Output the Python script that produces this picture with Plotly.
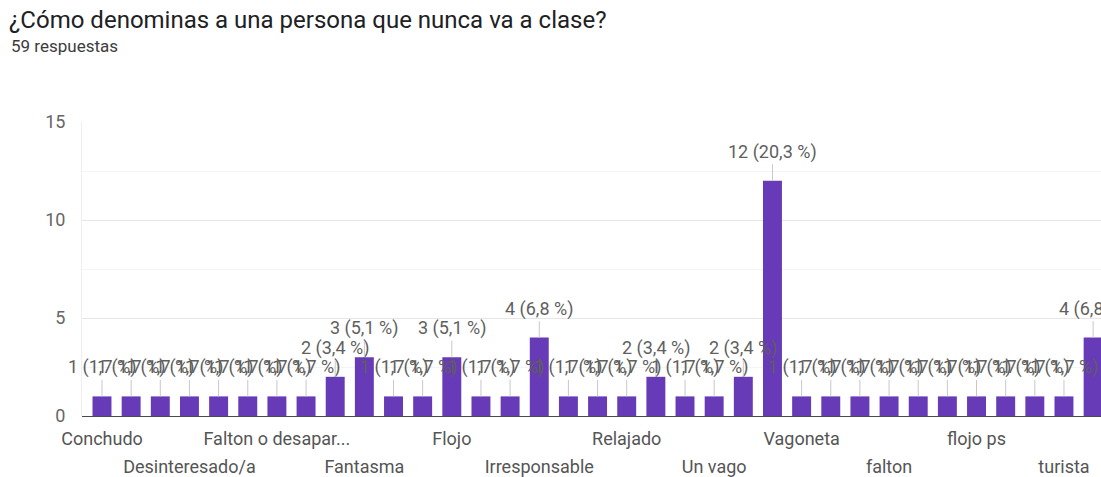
import plotly.graph_objects as go

# Survey answers (sorted the way the form lists them) and their counts
categories = [
    "Conchudo", "Desaparecido", "Desertor", "Desinteresado/a", "Despreocupado",
    "Falton", "Falton o desaparecido", "Faltoso", "Faltón", "Fantasma",
    "Fantasmita", "Flojazo", "Flojo", "Flojo y vago", "Haragán",
    "Irresponsable", "Ocioso", "Perezoso", "Relajado", "Tirapera",
    "Tiraplancha", "Un vago", "Vacilón", "Vago", "Vagoneta",
    "Zángano", "desaparecido", "falton", "faltoso", "flojo",
    "flojo ps", "irresponsable", "perezoso", "turista", "vago",
]
counts = [
    1, 1, 1, 1, 1,
    1, 1, 1, 2, 3,
    1, 1, 3, 1, 1,
    4, 1, 1, 1, 2,
    1, 1, 2, 12, 1,
    1, 1, 1, 1, 1,
    1, 1, 1, 1, 4,
]

# Axis labels: two staggered rows of category names
row1_ticks = ["Conchudo", "Falton o desaparecido", "Flojo", "Relajado", "Vagoneta", "flojo ps"]
row1_text = ["Conchudo", "Falton o desapar...", "Flojo", "Relajado", "Vagoneta", "flojo ps"]
row2_ticks = ["Desinteresado/a", "Fantasma", "Irresponsable", "Un vago", "falton", "turista"]
y_ticks = [0, 5, 10, 15]

title_text = "¿Cómo denominas a una persona que nunca va a clase?"
total = sum(counts)
subtitle_text = f"{total} respuestas"

PURPLE = "#673ab7"
FONT = "Roboto"

fig = go.Figure()
fig.add_trace(go.Bar(
    x=categories, y=counts, marker_color=PURPLE, marker_line_width=0,
    showlegend=False, hoverinfo="skip",
))
# carrier trace for the second row of category labels
fig.add_trace(go.Scatter(
    x=categories, y=[None] * len(categories), xaxis="x2",
    showlegend=False, hoverinfo="skip", mode="markers",
))

def pct_label(v):
    return f"{v} ({v / total * 100:.1f} %)".replace(".", ",")

annotations = []
for cat, v in zip(categories, counts):
    annotations.append(dict(
        x=cat, y=v, xref="x", yref="y", text=pct_label(v),
        showarrow=True, arrowhead=0, arrowwidth=1, arrowcolor="#c8c8c8",
        ax=0, ay=-29, standoff=0,
        font=dict(family=FONT, size=18, color="#5f5f5f"),
    ))
annotations.append(dict(
    text=subtitle_text, xref="paper", yref="paper",
    x=(9 - 82) / (1101 - 82), y=1 + (122 - 46) / 294,
    xanchor="left", yanchor="middle", showarrow=False,
    font=dict(family=FONT, size=17, color="#3c3c3c"),
))

cat_range = [-0.686, 34.27]

fig.update_layout(
    width=1101, height=477,
    margin=dict(l=82, r=0, t=122, b=61),
    paper_bgcolor="white", plot_bgcolor="white",
    bargap=0.35,
    title=dict(
        text=title_text, x=9 / 1101, xanchor="left", xref="container",
        y=1 - 20 / 477, yanchor="middle", yref="container",
        font=dict(family=FONT, size=24, color="#202124"),
    ),
    xaxis=dict(
        type="category", categoryorder="array", categoryarray=categories,
        range=cat_range, tickmode="array", tickvals=row1_ticks, ticktext=row1_text,
        ticks="", showgrid=False, showline=False, zeroline=False,
        ticklabelstandoff=10,
        tickfont=dict(family=FONT, size=18, color="#555555"),
    ),
    xaxis2=dict(
        type="category", categoryorder="array", categoryarray=categories,
        overlaying="x", side="bottom", anchor="y",
        range=cat_range, tickmode="array", tickvals=row2_ticks, ticktext=row2_ticks,
        ticks="", showgrid=False, showline=False, zeroline=False,
        ticklabelstandoff=38,
        tickfont=dict(family=FONT, size=18, color="#555555"),
    ),
    yaxis=dict(
        range=[0, 15], tickmode="array", tickvals=y_ticks,
        ticks="", showgrid=True, gridcolor="#e6e6e6", gridwidth=1,
        minor=dict(dtick=2.5, showgrid=True, gridcolor="#f4f4f4", gridwidth=1),
        zeroline=True, zerolinecolor="#4a4a4a", zerolinewidth=1,
        showline=True, linecolor="#efefef", linewidth=1,
        ticklabelstandoff=12,
        tickfont=dict(family=FONT, size=18, color="#666666"),
    ),
    annotations=annotations,
)

fig.write_html("out.html")
